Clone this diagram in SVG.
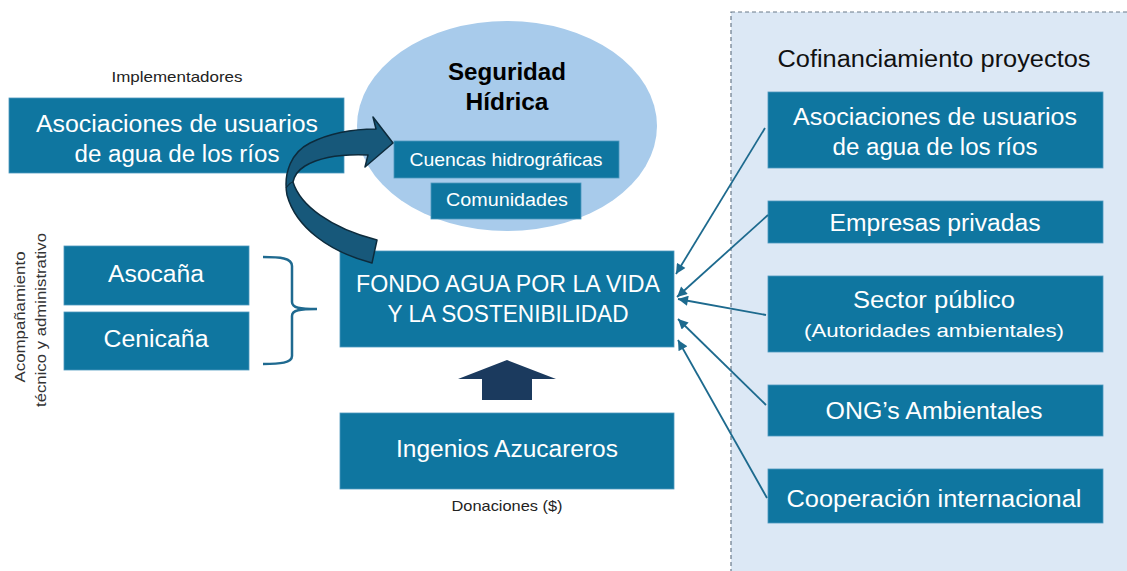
<svg xmlns="http://www.w3.org/2000/svg" width="1127" height="571" viewBox="0 0 1127 571">
<defs>
<style>
.box{fill:#0f76a0;stroke:#4d98bd;stroke-width:0.8}
.wt{fill:#ffffff;font-family:"Liberation Sans",Arial,sans-serif;font-size:23px;text-anchor:middle}
.wm{fill:#ffffff;font-family:"Liberation Sans",Arial,sans-serif;font-size:19px;text-anchor:middle}
.lbl{fill:#222;font-family:"Liberation Sans",Arial,sans-serif;font-size:15px;text-anchor:middle}
.conn{stroke:#1d6a8e;stroke-width:1.8;fill:none}
</style>
<marker id="ah" viewBox="0 0 10 10" refX="10" refY="5" markerWidth="11" markerHeight="10" markerUnits="userSpaceOnUse" orient="auto">
<path d="M0,0 L10,5 L0,10 Z" fill="#1d6a8e"/>
</marker>
</defs>
<rect width="1127" height="571" fill="#ffffff"/>

<g id="panel-cofinanciamiento">
<rect x="731" y="12" width="400" height="570" fill="#dce8f5" stroke="#6a7a8a" stroke-width="1.2" stroke-dasharray="4 3"/>
<text x="934" y="67" textLength="313" lengthAdjust="spacingAndGlyphs" style="fill:#111;font-family:'Liberation Sans',Arial,sans-serif;font-size:23px;text-anchor:middle">Cofinanciamiento proyectos</text>
</g>

<g id="implementadores-label">
<text class="lbl" x="177" y="82" textLength="131" lengthAdjust="spacingAndGlyphs">Implementadores</text>
</g>

<g id="node-asociaciones-left">
<rect class="box" x="9" y="98" width="335" height="75"/>
<text class="wt" x="177" y="132" textLength="282" lengthAdjust="spacingAndGlyphs">Asociaciones de usuarios</text>
<text class="wt" x="177" y="162" textLength="205" lengthAdjust="spacingAndGlyphs">de agua de los ríos</text>
</g>

<g id="node-seguridad-hidrica">
<ellipse cx="507" cy="126" rx="150" ry="105" fill="#a8cbeb"/>
<text x="507" y="80" textLength="118" lengthAdjust="spacingAndGlyphs" style="fill:#000;font-family:'Liberation Sans',Arial,sans-serif;font-size:23px;font-weight:bold;text-anchor:middle">Seguridad</text>
<text x="507" y="110" textLength="83" lengthAdjust="spacingAndGlyphs" style="fill:#000;font-family:'Liberation Sans',Arial,sans-serif;font-size:23px;font-weight:bold;text-anchor:middle">Hídrica</text>
</g>

<g id="node-cuencas">
<rect class="box" x="394" y="141" width="225" height="37"/>
<text class="wm" x="506" y="166" textLength="193" lengthAdjust="spacingAndGlyphs">Cuencas hidrográficas</text>
</g>

<g id="node-comunidades">
<rect class="box" x="431" y="183" width="150" height="36"/>
<text class="wm" x="507" y="206" textLength="122" lengthAdjust="spacingAndGlyphs">Comunidades</text>
</g>

<g id="acompanamiento-label">
<text class="lbl" transform="translate(25,317) rotate(-90)" textLength="131" lengthAdjust="spacingAndGlyphs" style="font-size:14px;fill:#333">Acompañamiento</text>
<text class="lbl" transform="translate(46,320) rotate(-90)" textLength="174" lengthAdjust="spacingAndGlyphs" style="font-size:14px;fill:#333">técnico y administrativo</text>
</g>

<g id="node-asocana">
<rect class="box" x="64" y="246" width="185" height="59"/>
<text class="wt" x="156" y="282" textLength="96" lengthAdjust="spacingAndGlyphs">Asocaña</text>
</g>

<g id="node-cenicana">
<rect class="box" x="64" y="312" width="185" height="58"/>
<text class="wt" x="156" y="347" textLength="105" lengthAdjust="spacingAndGlyphs">Cenicaña</text>
</g>

<g id="brace">
<path d="M263,257 C280,257 292,258 292,266 L292,302 C292,308 300,309 317,309 C300,309 292,310 292,316 L292,356 C292,363 280,364 263,364" fill="none" stroke="#1f6a90" stroke-width="2.5"/>
</g>

<g id="node-fondo">
<rect class="box" x="340" y="251" width="334" height="96"/>
<text class="wt" x="508" y="292" textLength="304" lengthAdjust="spacingAndGlyphs">FONDO AGUA POR LA VIDA</text>
<text class="wt" x="508" y="322" textLength="241" lengthAdjust="spacingAndGlyphs">Y LA SOSTENIBILIDAD</text>
</g>

<g id="curved-arrow">
<path d="M372,263 C330,252 296,228 287,195 C283,172 292,152 310,143 C330,133 352,129 376,129 L373,117 L393,143 L365,167 L368,155 C345,154 322,156 305,166 C297,171 294,177 293,182 C300,205 330,228 377,240 Z" fill="#17587a" stroke="#0d2b3c" stroke-width="1.5" stroke-linejoin="round"/>
<path d="M286,188 C289,184 291,182 293,182" fill="none" stroke="#0d2b3c" stroke-width="1.2"/>
</g>

<g id="up-arrow">
<path d="M507,360 L556,379 L532,379 L532,400 L482,400 L482,379 L458,379 Z" fill="#1b3a5e"/>
</g>

<g id="node-ingenios">
<rect class="box" x="340" y="413" width="334" height="76"/>
<text class="wt" x="507" y="457" textLength="222" lengthAdjust="spacingAndGlyphs">Ingenios Azucareros</text>
</g>

<g id="donaciones-label">
<text class="lbl" x="507" y="511" textLength="111" lengthAdjust="spacingAndGlyphs">Donaciones ($)</text>
</g>

<g id="node-asociaciones-right">
<rect class="box" x="768" y="92" width="335" height="76"/>
<text class="wt" x="935" y="125" textLength="284" lengthAdjust="spacingAndGlyphs">Asociaciones de usuarios</text>
<text class="wt" x="935" y="155" textLength="205" lengthAdjust="spacingAndGlyphs">de agua de los ríos</text>
</g>

<g id="node-empresas">
<rect class="box" x="768" y="201" width="335" height="42"/>
<text class="wt" x="935" y="231" textLength="211" lengthAdjust="spacingAndGlyphs">Empresas privadas</text>
</g>

<g id="node-sector-publico">
<rect class="box" x="768" y="276" width="335" height="76"/>
<text class="wt" x="934" y="308" textLength="162" lengthAdjust="spacingAndGlyphs">Sector público</text>
<text class="wm" x="934" y="337" textLength="260" lengthAdjust="spacingAndGlyphs">(Autoridades ambientales)</text>
</g>

<g id="node-ong">
<rect class="box" x="768" y="385" width="335" height="51"/>
<text class="wt" x="934" y="419" textLength="217" lengthAdjust="spacingAndGlyphs">ONG’s Ambientales</text>
</g>

<g id="node-cooperacion">
<rect class="box" x="768" y="469" width="335" height="54"/>
<text class="wt" x="934" y="507" textLength="295" lengthAdjust="spacingAndGlyphs">Cooperación internacional</text>
</g>

<g id="connectors">
<line class="conn" x1="765" y1="128" x2="676" y2="274" marker-end="url(#ah)"/>
<line class="conn" x1="768" y1="215" x2="677" y2="297" marker-end="url(#ah)"/>
<line class="conn" x1="766" y1="315" x2="678" y2="299" marker-end="url(#ah)"/>
<line class="conn" x1="766" y1="405" x2="678" y2="319" marker-end="url(#ah)"/>
<line class="conn" x1="767" y1="498" x2="678" y2="340" marker-end="url(#ah)"/>
</g>
</svg>
